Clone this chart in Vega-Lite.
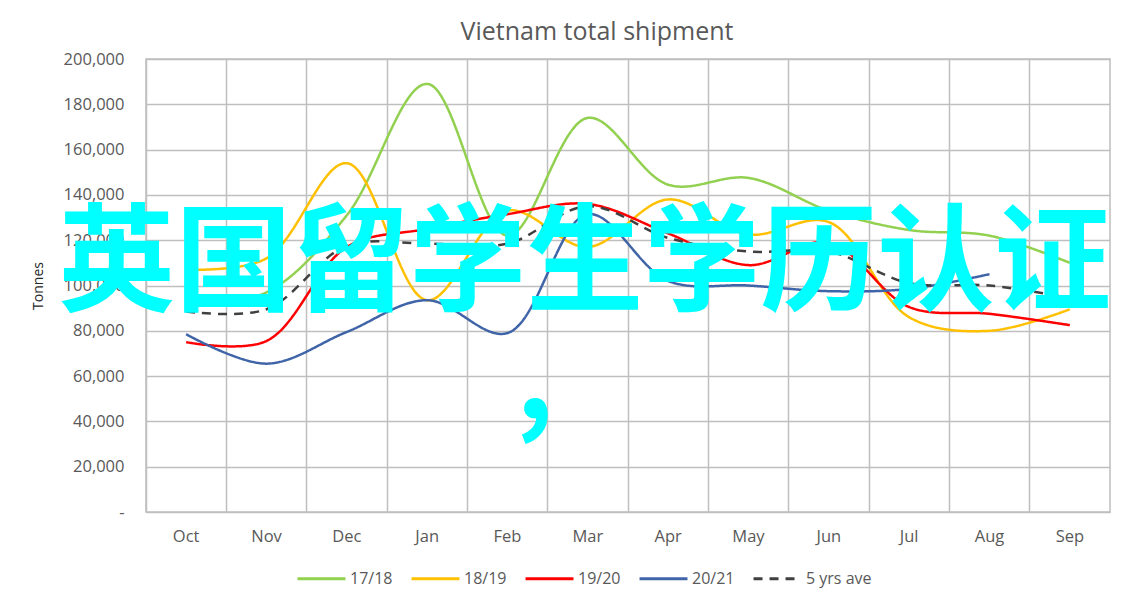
{
  "$schema": "https://vega.github.io/schema/vega-lite/v6.json",
  "autosize": {"type": "none"},
  "width": 964,
  "height": 453,
  "padding": {"left": 146, "top": 59, "right": 36, "bottom": 95},
  "background": "white",
  "title": {"text": "Vietnam total shipment", "fontSize": 25, "font": "Open Sans", "fontWeight": "normal", "color": "#595959", "offset": 6, "anchor": "middle", "dx": -31},
  "config": {
    "view": {"stroke": "#BFBFBF", "strokeWidth": 1.5},
    "axis": {"labelFont": "Open Sans", "titleFont": "Open Sans", "labelColor": "#595959", "gridColor": "#BFBFBF", "gridWidth": 1.5, "gridOpacity": 1, "ticks": false, "domain": false, "labelOverlap": false}
  },
  "data": {"values": [
    {"month": "Oct", "series": "17/18", "v": 92000},
    {"month": "Nov", "series": "17/18", "v": 97000},
    {"month": "Dec", "series": "17/18", "v": 131000},
    {"month": "Jan", "series": "17/18", "v": 189000},
    {"month": "Feb", "series": "17/18", "v": 122000},
    {"month": "Mar", "series": "17/18", "v": 174000},
    {"month": "Apr", "series": "17/18", "v": 144500},
    {"month": "May", "series": "17/18", "v": 147500},
    {"month": "Jun", "series": "17/18", "v": 133000},
    {"month": "Jul", "series": "17/18", "v": 124500},
    {"month": "Aug", "series": "17/18", "v": 122000},
    {"month": "Sep", "series": "17/18", "v": 110000},
    {"month": "Oct", "series": "18/19", "v": 107000},
    {"month": "Nov", "series": "18/19", "v": 112000},
    {"month": "Dec", "series": "18/19", "v": 154000},
    {"month": "Jan", "series": "18/19", "v": 93500},
    {"month": "Feb", "series": "18/19", "v": 133000},
    {"month": "Mar", "series": "18/19", "v": 117000},
    {"month": "Apr", "series": "18/19", "v": 138000},
    {"month": "May", "series": "18/19", "v": 122500},
    {"month": "Jun", "series": "18/19", "v": 128000},
    {"month": "Jul", "series": "18/19", "v": 86000},
    {"month": "Aug", "series": "18/19", "v": 80000},
    {"month": "Sep", "series": "18/19", "v": 89500},
    {"month": "Oct", "series": "19/20", "v": 75000},
    {"month": "Nov", "series": "19/20", "v": 75500},
    {"month": "Dec", "series": "19/20", "v": 117000},
    {"month": "Jan", "series": "19/20", "v": 125000},
    {"month": "Feb", "series": "19/20", "v": 131500},
    {"month": "Mar", "series": "19/20", "v": 136000},
    {"month": "Apr", "series": "19/20", "v": 123000},
    {"month": "May", "series": "19/20", "v": 109000},
    {"month": "Jun", "series": "19/20", "v": 119000},
    {"month": "Jul", "series": "19/20", "v": 90500},
    {"month": "Aug", "series": "19/20", "v": 87500},
    {"month": "Sep", "series": "19/20", "v": 82500},
    {"month": "Oct", "series": "20/21", "v": 78500},
    {"month": "Nov", "series": "20/21", "v": 65500},
    {"month": "Dec", "series": "20/21", "v": 79500},
    {"month": "Jan", "series": "20/21", "v": 93500},
    {"month": "Feb", "series": "20/21", "v": 79000},
    {"month": "Mar", "series": "20/21", "v": 131500},
    {"month": "Apr", "series": "20/21", "v": 102000},
    {"month": "May", "series": "20/21", "v": 100000},
    {"month": "Jun", "series": "20/21", "v": 97500},
    {"month": "Jul", "series": "20/21", "v": 98500},
    {"month": "Aug", "series": "20/21", "v": 105000},
    {"month": "Oct", "series": "5 yrs ave", "v": 88500},
    {"month": "Nov", "series": "5 yrs ave", "v": 89500},
    {"month": "Dec", "series": "5 yrs ave", "v": 117500},
    {"month": "Jan", "series": "5 yrs ave", "v": 118500},
    {"month": "Feb", "series": "5 yrs ave", "v": 118500},
    {"month": "Mar", "series": "5 yrs ave", "v": 135000},
    {"month": "Apr", "series": "5 yrs ave", "v": 121000},
    {"month": "May", "series": "5 yrs ave", "v": 115000},
    {"month": "Jun", "series": "5 yrs ave", "v": 115000},
    {"month": "Jul", "series": "5 yrs ave", "v": 101000},
    {"month": "Aug", "series": "5 yrs ave", "v": 100000},
    {"month": "Sep", "series": "5 yrs ave", "v": 94500}
  ]},
  "layer": [
    {
      "mark": {"type": "line", "interpolate": "catmull-rom", "strokeWidth": 2.5},
      "encoding": {
        "x": {"field": "month", "type": "ordinal", "sort": ["Oct","Nov","Dec","Jan","Feb","Mar","Apr","May","Jun","Jul","Aug","Sep"], "bandPosition": 0.5,
              "scale": {"type": "band", "paddingInner": 0, "paddingOuter": 0},
              "axis": {"title": null, "labelAngle": 0, "labelFontSize": 16.5, "labelPadding": 16, "grid": true, "bandPosition": 0}},
        "y": {"field": "v", "type": "quantitative", "scale": {"domain": [0, 200000], "nice": false},
              "axis": {"title": "Tonnes", "titleFontSize": 14, "titleFontWeight": "normal", "titleColor": "#262626", "titlePadding": 18, "labelFontSize": 16.5, "labelPadding": 22, "values": [0,20000,40000,60000,80000,100000,120000,140000,160000,180000,200000], "labelExpr": "datum.value == 0 ? '-' : format(datum.value, ',')"}},
        "color": {"field": "series", "type": "nominal", "sort": ["17/18","18/19","19/20","20/21","5 yrs ave"],
                  "scale": {"domain": ["17/18","18/19","19/20","20/21","5 yrs ave"], "range": ["#92D050","#FFC000","#FF0000","#4064A8","#404040"]},
                  "legend": {"title": null, "orient": "none", "legendX": 150, "legendY": 494, "direction": "horizontal", "columns": 5, "symbolType": "stroke", "symbolSize": 2300, "symbolStrokeWidth": 3, "labelFontSize": 16, "labelColor": "#595959", "labelFont": "Open Sans", "columnPadding": 12, "labelOffset": 3}},
        "strokeDash": {"field": "series", "type": "nominal", "sort": ["17/18","18/19","19/20","20/21","5 yrs ave"],
                  "scale": {"domain": ["17/18","18/19","19/20","20/21","5 yrs ave"], "range": [[1,0],[1,0],[1,0],[1,0],[9,7]]},
                  "legend": {"title": null}},
        "strokeWidth": {"condition": {"test": "datum.series == '5 yrs ave'", "value": 3.5}, "value": 2.5}
      }
    },
    {
      "data": {"values": [{"label": "英国留学生学历认证"}]},
      "mark": {"type": "text", "font": "Noto Sans CJK SC", "fontWeight": "bold", "fontSize": 117, "color": "#00FFFF", "align": "center", "baseline": "middle", "dx": -3},
      "encoding": {"x": {"datum": "Mar"}, "y": {"datum": 108000}, "text": {"field": "label"}}
    },
    {
      "data": {"values": [{"label": ","}]},
      "mark": {"type": "text", "font": "Noto Sans CJK SC", "fontWeight": "bold", "fontSize": 117, "color": "#00FFFF", "align": "center", "baseline": "middle", "dx": -53},
      "encoding": {"x": {"datum": "Mar"}, "y": {"datum": 56500}, "text": {"field": "label"}}
    }
  ]
}
